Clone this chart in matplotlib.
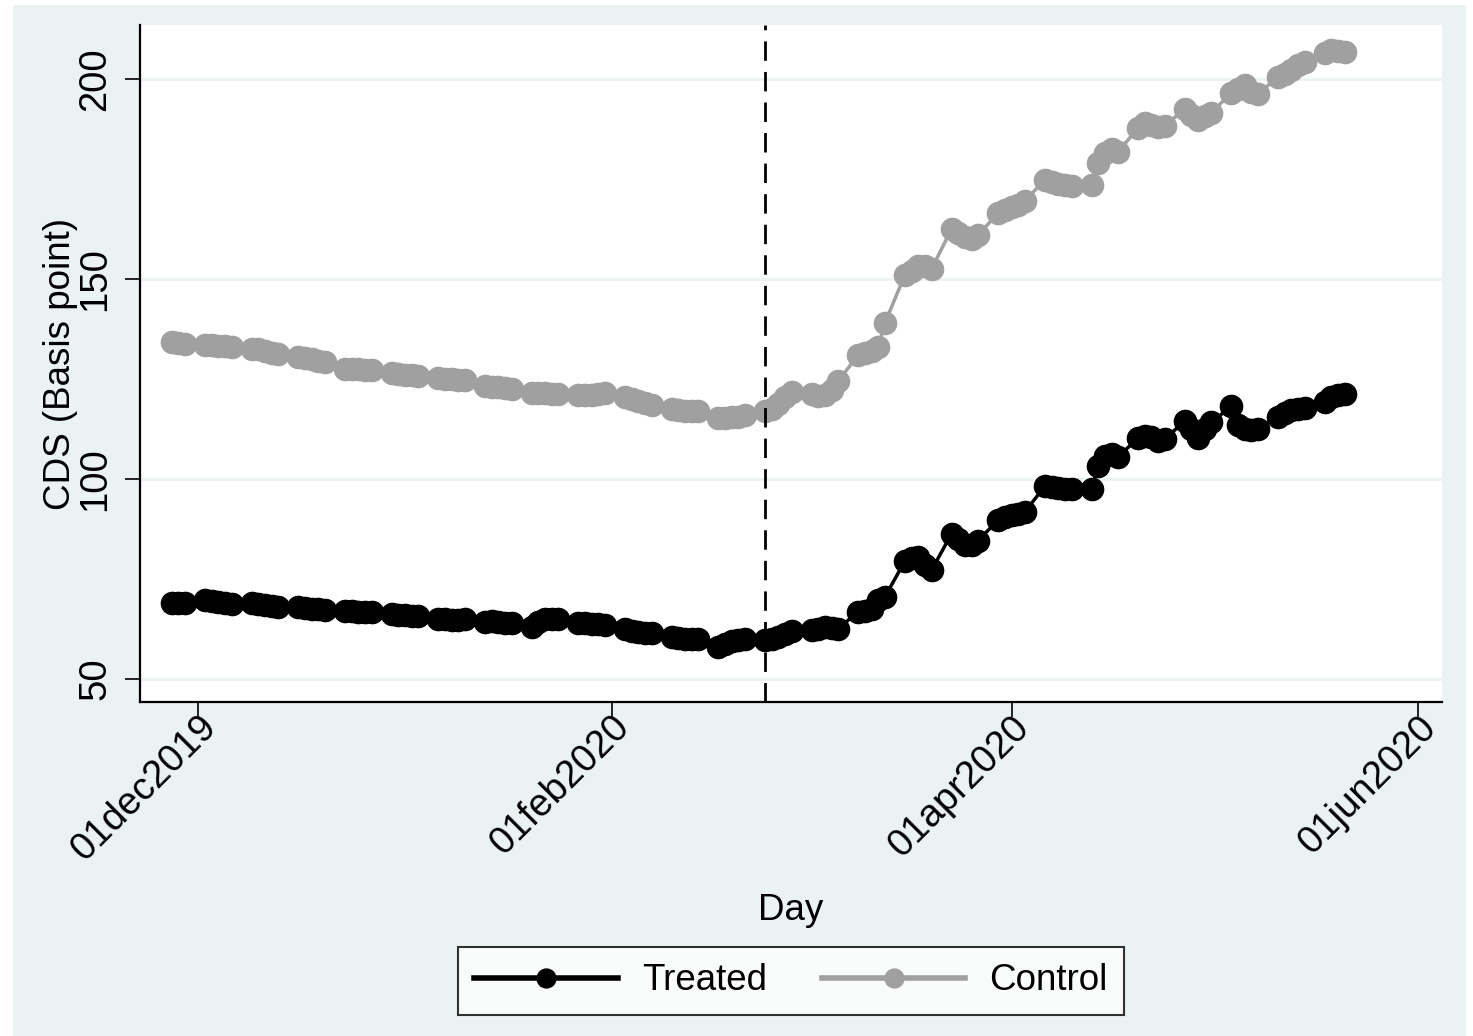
import pandas as pd
import matplotlib
matplotlib.use('Agg')
import matplotlib.pyplot as plt
from matplotlib.patches import Rectangle

plt.rcParams['font.family'] = ['Liberation Sans', 'DejaVu Sans']

# trading days, 27nov2019 - 21may2020
days = pd.bdate_range('2019-11-27', '2020-05-21')

# CDS spreads (basis points), one row per week
treated = [
    69.0, 69.0, 68.9,
    69.8, 69.6, 69.2, 68.9, 68.7,
    69.0, 68.8, 68.5, 68.2, 68.0,
    68.0, 67.8, 67.6, 67.4, 67.3,
    67.0, 66.9, 66.8, 66.7, 66.7,
    66.3, 66.1, 66.0, 65.8, 65.7,
    65.0, 64.9, 64.8, 64.8, 64.9,
    64.3, 64.4, 64.3, 64.1, 63.9,
    63.0, 64.3, 65.0, 65.1, 65.0,
    64.0, 64.0, 63.8, 63.8, 63.6,
    62.6, 62.0, 61.7, 61.5, 61.4,
    60.4, 60.2, 60.1, 60.0, 59.9,
    58.0, 58.8, 59.5, 59.8, 60.0,
    59.7, 60.1, 60.6, 61.3, 62.0,
    62.2, 62.6, 63.0, 62.8, 62.6,
    66.8, 67.0, 67.5, 69.8, 70.5,
    79.5, 80.2, 80.6, 78.5, 77.2,
    86.3, 85.0, 83.6, 83.4, 84.6,
    89.8, 90.4, 91.0, 91.3, 91.8,
    98.2, 98.0, 97.8, 97.6, 97.5,
    97.4, 103.2, 105.8, 106.2, 105.6,
    110.2, 110.8, 110.5, 109.5, 110.0,
    114.5, 112.5, 110.3, 112.6, 114.2,
    118.2, 113.5, 112.6, 112.3, 112.6,
    115.4, 116.4, 117.2, 117.5, 117.8,
    119.2, 120.5, 121.0, 121.2,
]

control = [
    134.2, 134.0, 133.8,
    133.5, 133.4, 133.3, 133.2, 133.0,
    132.6, 132.4, 132.0, 131.6, 131.3,
    130.6, 130.3, 130.0, 129.6, 129.3,
    127.6, 127.5, 127.4, 127.3, 127.2,
    126.4, 126.2, 126.0, 125.9, 125.7,
    125.2, 125.0, 124.9, 124.8, 124.8,
    123.2, 123.0, 122.9, 122.8, 122.6,
    121.6, 121.5, 121.4, 121.3, 121.3,
    121.0, 120.9, 121.0, 121.3, 121.5,
    120.5, 120.0, 119.5, 119.0, 118.6,
    117.4, 117.2, 117.0, 117.0, 116.9,
    115.3, 115.2, 115.4, 115.6, 116.0,
    117.0, 117.6, 118.8, 120.5, 121.8,
    121.3, 120.8, 121.0, 122.3, 124.5,
    131.0, 131.5, 132.0, 133.0, 139.0,
    151.0, 152.0, 153.2, 153.3, 152.5,
    162.5, 161.5, 160.5, 160.0, 161.0,
    166.5, 167.2, 168.0, 168.5, 169.5,
    174.8, 174.2, 173.8, 173.5, 173.3,
    173.6, 179.0, 181.5, 182.5, 181.8,
    187.8, 189.0, 188.6, 188.0, 188.2,
    192.6, 191.0, 189.8, 190.8, 191.6,
    196.6, 197.6, 198.4, 196.8, 196.2,
    200.6, 201.2, 202.2, 203.5, 204.2,
    206.6, 207.2, 207.0, 206.8,
]

event_day = pd.Timestamp('2020-02-24')
xtick_dates = pd.to_datetime(['2019-12-01', '2020-02-01', '2020-04-01', '2020-06-01'])
xtick_labels = ['01dec2019', '01feb2020', '01apr2020', '01jun2020']
yticks = [50, 100, 150, 200]

bg = '#EAF2F3'
gray = '#A0A0A0'

fig = plt.figure(figsize=(14.73, 10.36), dpi=100)
fig.patch.set_facecolor('white')
fig.patches.append(Rectangle((13 / 1473, 0), 1453 / 1473, 1031 / 1036,
                             transform=fig.transFigure, facecolor=bg,
                             edgecolor='none', zorder=-10))

ax = fig.add_axes([140 / 1473, 1 - 702 / 1036, 1302 / 1473, 677 / 1036])
ax.set_facecolor('white')

for y in yticks:
    ax.axhline(y, color=bg, lw=2, zorder=0)

ax.plot(days, treated, color='black', lw=2.5, marker='o', ms=16,
        label='Treated', zorder=3)
ax.plot(days, control, color=gray, lw=2.5, marker='o', ms=16,
        label='Control', zorder=3)
ax.axvline(event_day, color='black', lw=2, linestyle=(0, (7, 4)), zorder=4)

ax.set_xlim(pd.Timestamp('2019-11-22 06:00'), pd.Timestamp('2020-06-04 14:00'))
ax.set_ylim(44.25, 213.5)

ax.set_xticks(xtick_dates)
ax.set_xticklabels(xtick_labels, rotation=45, ha='right', va='top',
                   rotation_mode='anchor', fontsize=27.5)
ax.set_yticks(yticks)
ax.set_yticklabels([str(v) for v in yticks], rotation=90, va='center',
                   fontsize=27.5)

ax.tick_params(axis='both', length=11, width=1.2, color='black')
ax.tick_params(axis='x', pad=-6)
ax.tick_params(axis='y', pad=8)

for side in ['top', 'right']:
    ax.spines[side].set_visible(False)
for side in ['left', 'bottom']:
    ax.spines[side].set_linewidth(1.6)
    ax.spines[side].set_color('black')

ax.set_xlabel('Day', fontsize=26.5, labelpad=18)
ax.set_ylabel('CDS (Basis point)', fontsize=26.5, labelpad=0)

leg = fig.legend(loc='center', bbox_to_anchor=(791 / 1473, 1 - 981 / 1036),
                 ncol=2, fontsize=26.5, frameon=True, fancybox=False,
                 handlelength=3.9, handletextpad=0.65, columnspacing=1.5,
                 borderpad=0.45, markerscale=0.85)
leg.get_frame().set_edgecolor('black')
leg.get_frame().set_linewidth(1.5)
leg.get_frame().set_facecolor('white')
for line in leg.get_lines():
    line.set_linewidth(4)

fig.savefig('out.png', dpi=100, facecolor=fig.get_facecolor())
